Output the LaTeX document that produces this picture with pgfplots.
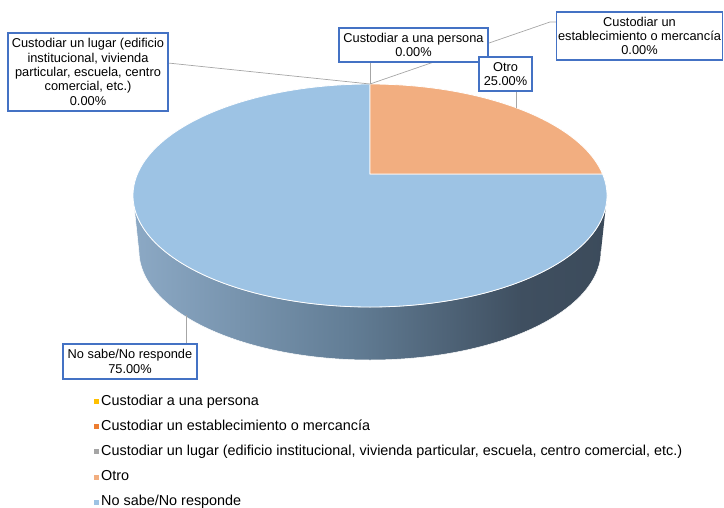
\documentclass[border=0pt]{standalone}
\usepackage{pgfplots}
\usepackage{pgfplotstable}
\pgfplotsset{compat=1.18}
\usepackage{fontspec}
\setmainfont{Liberation Sans}

\definecolor{cPersona}{HTML}{FFC000}
\definecolor{cEstab}{HTML}{ED7D31}
\definecolor{cLugar}{HTML}{A5A5A5}
\definecolor{cOtro}{HTML}{F2AE80}
\definecolor{cNoSabe}{HTML}{9DC3E4}
\definecolor{boxblue}{HTML}{4472C4}
\definecolor{leader}{HTML}{A6A6A6}
\definecolor{sideA}{HTML}{8CA9C5}
\definecolor{sideB}{HTML}{627D95}
\definecolor{sideC}{HTML}{3F4F60}
\definecolor{sideD}{HTML}{3C4B5B}
\pgfdeclarehorizontalshading{sideshade}{100bp}{color(0bp)=(sideA); color(25bp)=(sideA); color(48bp)=(sideB); color(66bp)=(sideC); color(75bp)=(sideD); color(100bp)=(sideD)}

\pgfplotstableread{
label value
persona 0
establecimiento 0
lugar 0
otro 25
nosabe 75
}\piedata

\newcommand{\lbl}{\fontsize{12.8bp}{14.4bp}\selectfont}

\begin{document}
\begin{tikzpicture}
% pie geometry (pixels): top ellipse centre, radii; projected centre of the pie
\def\cx{370}\def\cy{195.5}\def\rx{237}\def\ry{111.5}
\def\pcy{174}
\def\cyb{251}\def\rxb{231}\def\ryb{109}
\pgfmathsetmacro\vz{(\cy-\pcy)/\ry}
% slice angles from the data
\pgfplotstablegetelem{3}{value}\of\piedata \let\vOtro\pgfplotsretval
\pgfplotstablegetelem{4}{value}\of\piedata \let\vNoSabe\pgfplotsretval
\pgfmathsetmacro\thA{90}
\pgfmathsetmacro\thB{90-\vOtro*3.6}
% map a pie angle to the ellipse parameter
\pgfmathsetmacro\sB{-\vz*sin(\thB)+sqrt((\vz*sin(\thB))^2-\vz^2+1)}
\pgfmathsetmacro\tB{atan2(\vz+\sB*sin(\thB),\sB*cos(\thB))}
\pgfmathsetmacro\tA{90}
\pgfmathsetmacro\tC{\tA-360}
\begin{axis}[
  scale only axis, width=724bp, height=508bp,
  xmin=0, xmax=724, ymin=0, ymax=508, y dir=reverse,
  hide axis, clip=false,
  legend cell align=left,
  legend image code/.code={\fill[#1, draw=none] (0bp,-2.6bp) rectangle (5bp,2.4bp);},
  legend style={at={(axis cs:91,393)}, anchor=north west, draw=none, fill=none,
    font=\fontsize{14.4bp}{17bp}\selectfont, row sep=12.1bp, column sep=2bp,
    nodes={inner sep=0pt, text height=10.2bp, text depth=2.8bp}},
]
% side of the pie
\addplot[forget plot, shade, shading=sideshade, draw=white, line width=0.5bp, domain=0:360, samples=361]
  ({ifthenelse(x<180.5, \cx+\rx*cos(-x), \cx+\rxb*cos(x-360))},
   {ifthenelse(x<180.5, \cy-\ry*sin(-x), \cyb-\ryb*sin(x-360))});
% No sabe / No responde slice
\addplot[forget plot, fill=cNoSabe, draw=white, line width=0.8bp, samples at={-1,0,1,...,200}]
  ({ifthenelse(x<-0.5, \cx, \cx+\rx*cos(\tB+(\tC-\tB)*x/200))},
   {ifthenelse(x<-0.5, \pcy, \cy-\ry*sin(\tB+(\tC-\tB)*x/200))}) -- cycle;
% Otro slice
\addplot[forget plot, fill=cOtro, draw=white, line width=0.8bp, samples at={-1,0,1,...,100}]
  ({ifthenelse(x<-0.5, \cx, \cx+\rx*cos(\tA+(\tB-\tA)*x/100))},
   {ifthenelse(x<-0.5, \pcy, \cy-\ry*sin(\tA+(\tB-\tA)*x/100))}) -- cycle;

\addlegendimage{fill=cPersona}\addlegendentry{Custodiar a una persona}
\addlegendimage{fill=cEstab}\addlegendentry{Custodiar un establecimiento o mercancía}
\addlegendimage{fill=cLugar}\addlegendentry{Custodiar un lugar (edificio institucional, vivienda particular, escuela, centro comercial, etc.)}
\addlegendimage{fill=cOtro}\addlegendentry{Otro}
\addlegendimage{fill=cNoSabe}\addlegendentry{No sabe/No responde}

% leader lines
\draw[leader, line width=0.7bp] (axis cs:168,63) -- (axis cs:370,84);
\draw[leader, line width=0.7bp] (axis cs:370,62) -- (axis cs:370,84);
\draw[leader, line width=0.7bp] (axis cs:556,22) -- (axis cs:550,22) -- (axis cs:370,84);
\draw[leader, line width=0.7bp] (axis cs:516.5,91) -- (axis cs:516.5,108);
\draw[leader, line width=0.7bp] (axis cs:186,344) -- (axis cs:186,315);

% data labels
\tikzset{lbox/.style={draw=boxblue, line width=1.1bp, fill=white, align=center, inner sep=0pt, font=\lbl}}
\node[lbox, minimum width=160bp, minimum height=78bp] at (axis cs:88,72)
  {Custodiar un lugar (edificio\\institucional, vivienda\\particular, escuela, centro\\comercial, etc.)\\0.00\%};
\node[lbox, minimum width=149bp, minimum height=34bp] at (axis cs:413.5,45)
  {Custodiar a una persona\\0.00\%};
\node[lbox, minimum width=166bp, minimum height=48bp] at (axis cs:639.5,36)
  {Custodiar un\\establecimiento o mercancía\\0.00\%};
\node[lbox, minimum width=53bp, minimum height=34bp] at (axis cs:505.5,74)
  {Otro\\25.00\%};
\node[lbox, minimum width=134bp, minimum height=35bp] at (axis cs:130,361.5)
  {No sabe/No responde\\75.00\%};
\end{axis}
\pgfresetboundingbox
\path (current axis.south west) rectangle (current axis.north east);
\end{tikzpicture}
\end{document}
